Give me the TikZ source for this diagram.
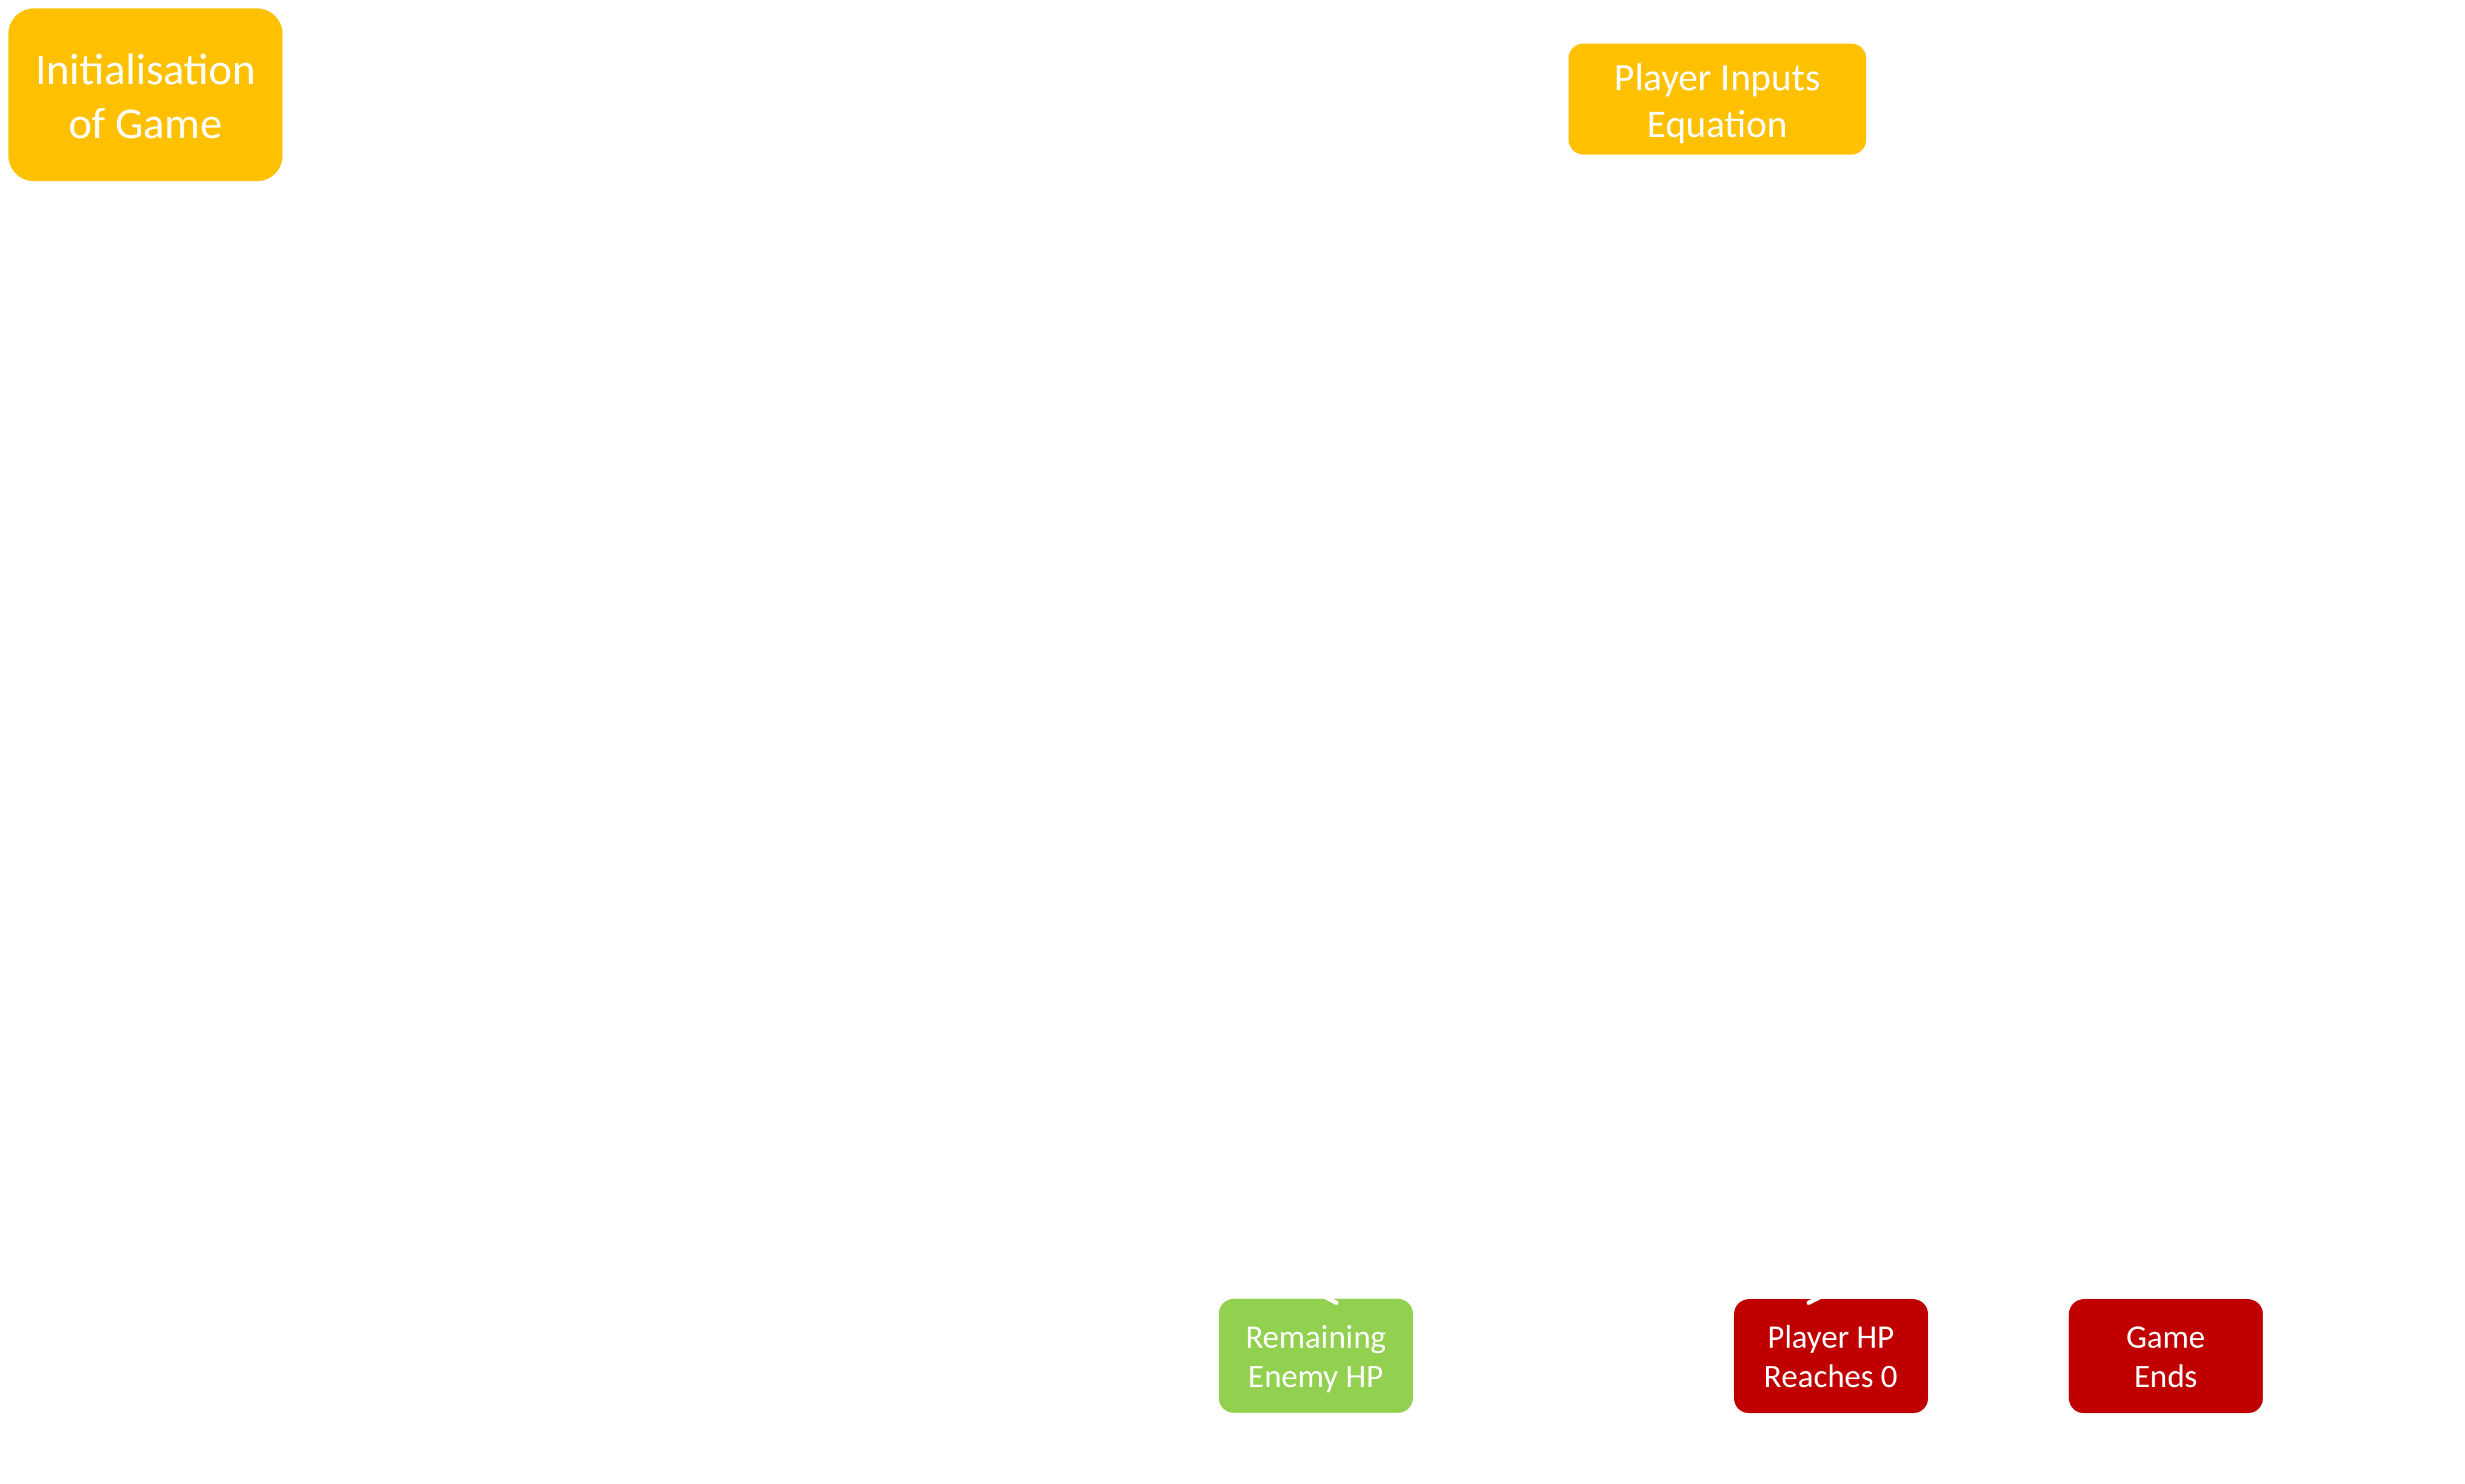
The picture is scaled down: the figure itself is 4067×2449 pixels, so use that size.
\documentclass[tikz,border=0pt]{standalone}
\usepackage{fontspec}
\setmainfont{Carlito}
\definecolor{gold}{HTML}{FFC000}
\definecolor{leaf}{HTML}{92D050}
\definecolor{crimson}{HTML}{C00000}
\newcommand{\topstrut}[1]{\rule{0pt}{#1}}
\newcommand{\botstrut}[1]{\rule[-#1]{0pt}{#1}}
\begin{document}
\begin{tikzpicture}[x=0.01cm,y=-0.01cm,
  box/.style={rectangle, inner sep=0pt, text=white, align=center, draw=none},
  bigbox/.style={box, fill=gold, minimum width=452*0.2845pt, minimum height=285*0.2845pt, rounded corners=12pt, font=\fontsize{20.8}{25.3}\selectfont},
  midbox/.style={box, fill=gold, minimum width=491*0.2845pt, minimum height=183*0.2845pt, rounded corners=7pt, font=\fontsize{18.3}{21.9}\selectfont},
  smallbox/.style={box, minimum width=320*0.2845pt, minimum height=188*0.2845pt, rounded corners=7pt, font=\fontsize{15.4}{18.5}\selectfont},
  notch/.style={draw=white, line width=2pt, line cap=round}]
\useasboundingbox (0,0) rectangle (4067,2449);
\fill[white] (0,0) rectangle (4067,2449);
\node[bigbox] (init) at (240,156.5) {\topstrut{22.7pt}Initialisation\\of Game\botstrut{7.1pt}};
\node[midbox] (input) at (2833.5,163.5) {\topstrut{19.6pt}Player Inputs\\Equation\botstrut{5.7pt}};
\node[smallbox, fill=leaf] (enemy) at (2171,2237.5) {\topstrut{16.6pt}Remaining\\Enemy HP\botstrut{5.7pt}};
\node[smallbox, fill=crimson] (player) at (3021,2238) {\topstrut{16.3pt}Player HP\\Reaches 0\botstrut{5.7pt}};
\node[smallbox, fill=crimson] (ends) at (3573.5,2238) {\topstrut{16.3pt}Game\\Ends\botstrut{5.7pt}};
\coordinate (e1) at (2180,2137);
\coordinate (e2) at (2205,2150);
\draw[notch] (e1) -- (e2);
\coordinate (p1) at (3008,2138);
\coordinate (p2) at (2984,2150);
\draw[notch] (p1) -- (p2);
\end{tikzpicture}
\end{document}
